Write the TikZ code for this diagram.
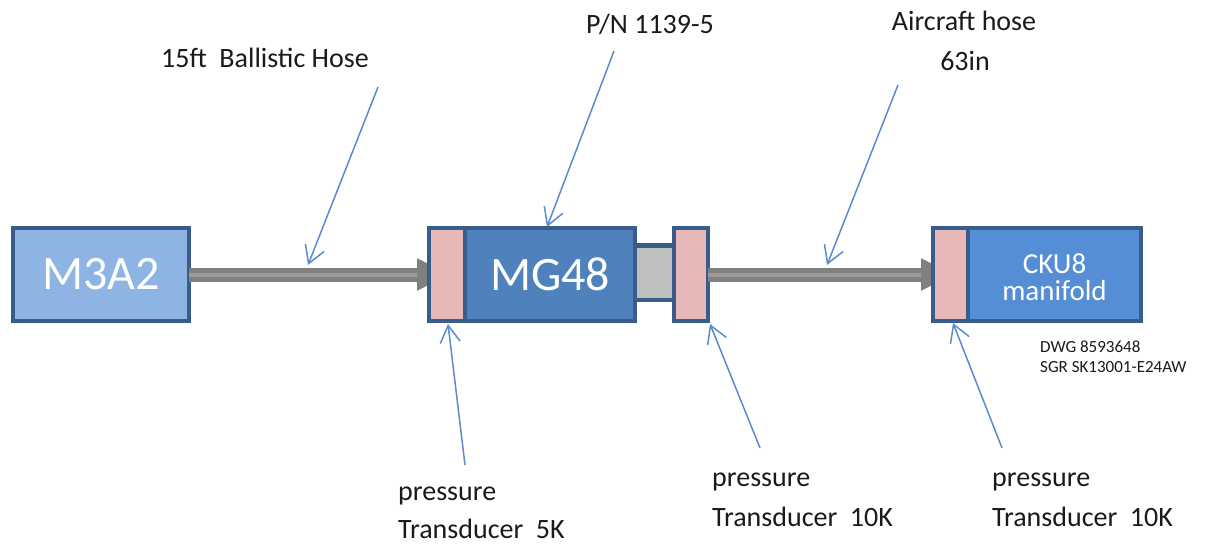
\documentclass[tikz,border=0pt]{standalone}
\usepackage{fontspec}
\setmainfont{Carlito}
\usetikzlibrary{arrows.meta}
\definecolor{bordc}{HTML}{385D8A}
\definecolor{lightc}{HTML}{8EB4E3}
\definecolor{midc}{HTML}{4F81BD}
\definecolor{ckuc}{HTML}{558ED5}
\definecolor{pinkc}{HTML}{E6B9B8}
\definecolor{grayc}{HTML}{BFBFBF}
\definecolor{hosec}{HTML}{808080}
\definecolor{hosemid}{HTML}{9A9A9A}
\definecolor{annc}{HTML}{5B8BCB}
\definecolor{txtc}{HTML}{1A1A1A}
\tikzset{
  box/.style={draw=bordc, line width=4.5pt, inner sep=0pt, outer sep=0pt, minimum height=93pt, text=white},
  pinkbox/.style={box, fill=pinkc},
  hose/.style={draw=hosec, line width=14pt, -{Triangle[length=33pt,width=30pt]}},
  hosestripe/.style={draw=hosemid, line width=4pt, shorten >=33pt},
  ann/.style={draw=annc, line width=1.5pt, -{Straight Barb[length=17pt,width=20pt]}},
  lab/.style={font=\fontsize{28}{38}\selectfont, text=txtc, inner sep=0pt},
  small/.style={font=\fontsize{17}{20}\selectfont, text=txtc, inner sep=0pt}
}
\begin{document}
\begin{tikzpicture}[x=1pt,y=-1pt]
\useasboundingbox (0,0) rectangle (1212,544);

% gray coupling (behind)
\node[box, fill=grayc, minimum width=39pt, minimum height=54.5pt] (cpl) at (654.5,272.75) {};

% boxes
\node[box, fill=lightc, minimum width=176pt, font=\fontsize{48}{48}\selectfont] (m3a2) at (101,274.5) {M3A2};

% hoses (drawn before the receiving boxes)
\coordinate (h1end) at (450,274.5);
\draw[hose] (m3a2.east) -- (h1end);
\draw[hosestripe] (m3a2.east) -- (h1end);

\node[box, fill=midc, minimum width=170pt, font=\fontsize{48}{48}\selectfont] (mg48) at (550,274.5) {MG48};
\node[pinkbox, minimum width=36pt] (p1) at (447,274.5) {};
\node[pinkbox, minimum width=34pt] (p2) at (691,274.5) {};

\coordinate (h2end) at (954,274.5);
\draw[hose] (p2.east) -- (h2end);
\draw[hosestripe] (p2.east) -- (h2end);

\node[box, fill=ckuc, minimum width=173pt] (cku) at (1054.5,274.5) {};
\node[align=center, text=white, inner sep=0pt, font=\fontsize{29}{27}\selectfont] (ckutxt) at (1054.5,277) {CKU8\\manifold};
\node[pinkbox, minimum width=35pt] (p3) at (950.5,274.5) {};

% labels
\node[lab, anchor=base] (t1) at (265,67) {15ft~ Ballistic Hose};
\node[lab, anchor=base] (t2) at (650,33) {P/N 1139-5};
\node[lab, anchor=base] (t3a) at (964,30) {Aircraft hose};
\node[lab, anchor=base] (t3b) at (965,70) {63in};

\node[lab, anchor=base west] (b1a) at (398,500) {pressure};
\node[lab, anchor=base west] (b1b) at (398,538) {Transducer~ 5K};
\node[lab, anchor=base west] (b2a) at (712,486) {pressure};
\node[lab, anchor=base west] (b2b) at (712,526) {Transducer~ 10K};
\node[lab, anchor=base west] (b3a) at (992,486) {pressure};
\node[lab, anchor=base west] (b3b) at (992,526) {Transducer~ 10K};

\node[small, anchor=base west] (dwg1) at (1040,352) {DWG 8593648};
\node[small, anchor=base west] (dwg2) at (1040,372) {SGR SK13001-E24AW};

% annotation arrows
\coordinate (a1s) at (378,87);  \coordinate (a1e) at (308,265);
\coordinate (a2s) at (614,51);  \coordinate (a2e) at (547,227);
\coordinate (a3s) at (898,85);  \coordinate (a3e) at (827,265);
\coordinate (b1s) at (465,465); \coordinate (b1e) at (448,324);
\coordinate (b2s) at (760,448); \coordinate (b2e) at (710,324);
\coordinate (b3s) at (1002,448);\coordinate (b3e) at (953,323);
\draw[ann] (a1s) -- (a1e);
\draw[ann] (a2s) -- (a2e);
\draw[ann] (a3s) -- (a3e);
\draw[ann] (b1s) -- (b1e);
\draw[ann] (b2s) -- (b2e);
\draw[ann] (b3s) -- (b3e);
\end{tikzpicture}
\end{document}
